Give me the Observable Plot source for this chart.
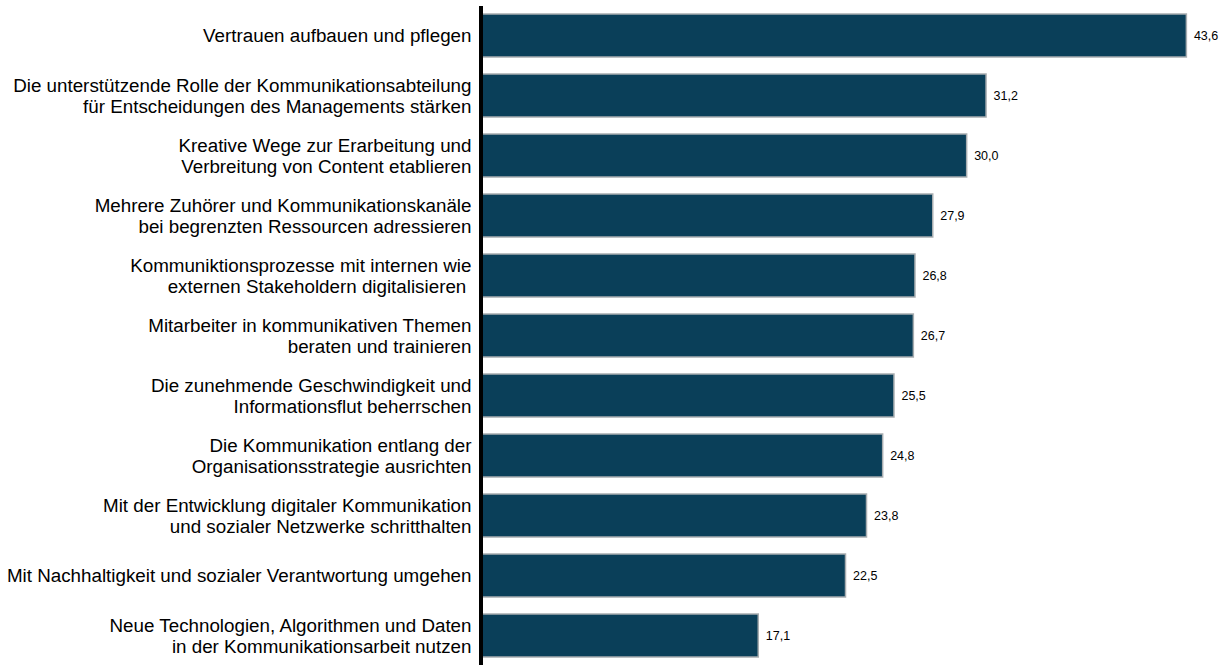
<!DOCTYPE html>
<html><head><meta charset="utf-8">
<script src="https://cdn.jsdelivr.net/npm/d3@7"></script>
<script src="https://cdn.jsdelivr.net/npm/@observablehq/plot@0.6"></script>
<style>
html,body{margin:0;padding:0;background:#fff;overflow:hidden;}
svg{display:block;}
</style>
</head><body>
<div id="chart"></div>
<script>
const categories = [
  "Vertrauen aufbauen und pflegen",
  "Die unterstützende Rolle der Kommunikationsabteilung\nfür Entscheidungen des Managements stärken",
  "Kreative Wege zur Erarbeitung und\nVerbreitung von Content etablieren",
  "Mehrere Zuhörer und Kommunikationskanäle\nbei begrenzten Ressourcen adressieren",
  "Kommuniktionsprozesse mit internen wie\nexternen Stakeholdern digitalisieren ",
  "Mitarbeiter in kommunikativen Themen\nberaten und trainieren",
  "Die zunehmende Geschwindigkeit und\nInformationsflut beherrschen",
  "Die Kommunikation entlang der\nOrganisationsstrategie ausrichten",
  "Mit der Entwicklung digitaler Kommunikation\nund sozialer Netzwerke schritthalten",
  "Mit Nachhaltigkeit und sozialer Verantwortung umgehen",
  "Neue Technologien, Algorithmen und Daten\nin der Kommunikationsarbeit nutzen"
];
const values = [43.6, 31.2, 30.0, 27.9, 26.8, 26.7, 25.5, 24.8, 23.8, 22.5, 17.1];
const valueLabels = ["43,6","31,2","30,0","27,9","26,8","26,7","25,5","24,8","23,8","22,5","17,1"];

const data = categories.map((c, i) => ({cat: c, value: values[i], label: valueLabels[i]}));

const chart = Plot.plot({
  width: 1220,
  height: 665,
  marginLeft: 482,
  marginRight: 11,
  marginTop: 6,
  marginBottom: 0,
  style: {fontFamily: "'Liberation Sans', Arial, sans-serif", background: "#fff"},
  x: {domain: [0, 45], axis: null},
  y: {domain: categories, axis: null, paddingInner: 0.29, paddingOuter: 0.12},
  marks: [
    Plot.barX(data, {x: "value", y: "cat", fill: "#0a3f59", stroke: "#a8adb0", strokeWidth: 1.5}),
    Plot.text(data, {x: "value", y: "cat", text: "label", textAnchor: "start", dx: 7, fontSize: 12.5, fill: "#000"}),
    Plot.text(data, {x: 0, y: "cat", text: "cat", textAnchor: "end", dx: -11, fontSize: 18.8, lineHeight: 1.07, fill: "#000"}),
    Plot.ruleX([0], {stroke: "#000", strokeWidth: 4, dx: -1.5})
  ]
});
document.getElementById("chart").appendChild(chart);
</script>
</body></html>
